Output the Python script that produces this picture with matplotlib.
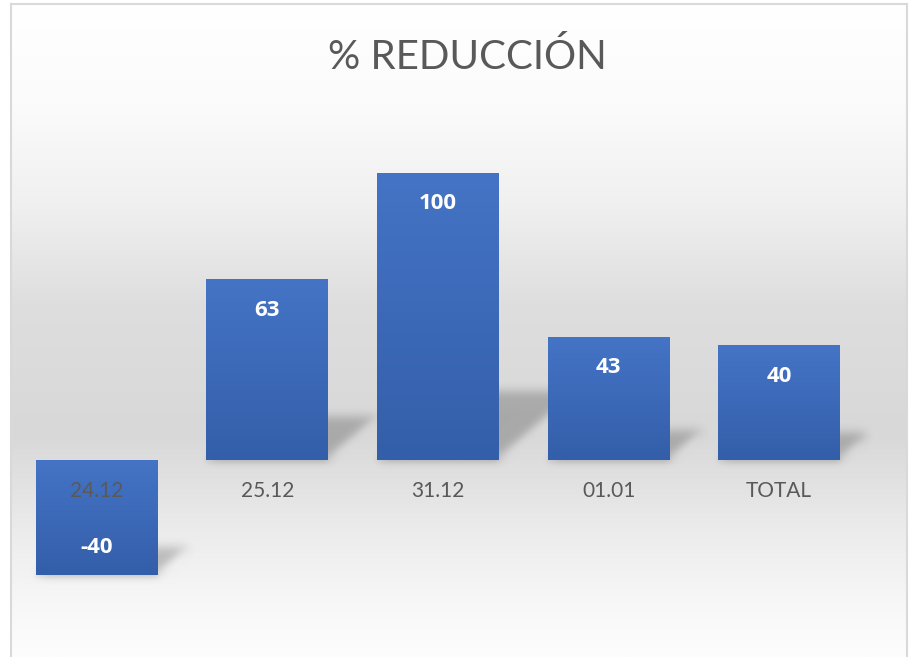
import numpy as np
import matplotlib
matplotlib.use("Agg")
import matplotlib.pyplot as plt
from matplotlib.patches import Rectangle, Polygon
from matplotlib.lines import Line2D
from matplotlib.colors import to_rgb

# ---------------- data ----------------
categories = ["24.12", "25.12", "31.12", "01.01", "TOTAL"]
values = [-40, 63, 100, 43, 40]
title = "% REDUCCIÓN"

# ---------------- style ----------------
W, H = 909, 657
DPI = 100
FONT = ["Lato", "DejaVu Sans"]
BOLD_FONT = ["Open Sans", "DejaVu Sans"]
plt.rcParams["font.family"] = FONT

fig = plt.figure(figsize=(W / DPI, H / DPI), dpi=DPI)
fig.patch.set_facecolor("white")

# chart frame (gradient background)
fx0, fx1, fy_top = 11, 907, 4
bg = fig.add_axes([fx0 / W, 0, (fx1 - fx0) / W, (H - fy_top) / H])
bg.set_axis_off()
ys = np.array([0, 100, 200, 300, 430, 470, 530, 600, 653])  # px from frame top
gs = np.array([255, 251, 240, 222, 216, 224, 236, 247, 253]) / 255.0
yy = np.linspace(0, 653, 400)
col = np.interp(yy, ys, gs)
grad = np.repeat(col[:, None], 3, axis=1)[:, None, :]
bg.imshow(grad, aspect="auto", extent=[0, 1, 0, 1], origin="upper")
bg.set_xlim(0, 1)
bg.set_ylim(0, 1)
ty = 1 - fy_top / H
for xs, yv in [([fx0 / W, fx0 / W], [0, ty]), ([fx0 / W, fx1 / W], [ty, ty]),
               ([fx1 / W, fx1 / W], [ty, 0])]:
    fig.lines.append(Line2D(xs, yv, transform=fig.transFigure, color="#d9d9d9",
                            linewidth=1.5, zorder=10))

# plot axes
ax_x0, ax_x1 = 11.5, 864.5
ax = fig.add_axes([ax_x0 / W, 0, (ax_x1 - ax_x0) / W, 1])
ax.set_facecolor("none")
zero_px = 460.0
px_per_unit = 2.87
ymin = -(H - zero_px) / px_per_unit
ymax = zero_px / px_per_unit
n = len(categories)
x = np.arange(n)
xlim = (-0.5, n - 0.5)
px_per_x = (ax_x1 - ax_x0) / (xlim[1] - xlim[0])
bar_w = 0.714

bars = ax.bar(x, values, width=bar_w, color="none", edgecolor="none", zorder=3)


def make_blur(sigma):
    def filt(im, dpi):
        pad = int(3 * sigma) + 1
        src = np.pad(im, [(pad, pad), (pad, pad), (0, 0)], "constant")
        k = np.arange(-pad, pad + 1)
        w = np.exp(-0.5 * (k / sigma) ** 2)
        w /= w.sum()
        out = np.zeros_like(src)
        for kk, ww in zip(k, w):
            out += ww * np.roll(src, kk, axis=0)
        out2 = np.zeros_like(out)
        for kk, ww in zip(k, w):
            out2 += ww * np.roll(out, kk, axis=1)
        return out2, -pad, -pad
    return filt


top_c = np.array(to_rgb("#4574C6"))
bot_c = np.array(to_rgb("#335EA9"))
g = np.linspace(0, 1, 200)[:, None]
bar_grad = (bot_c[None, :] * (1 - g) + top_c[None, :] * g)[:, None, :]

for b, v in zip(bars, values):
    x0 = b.get_x()
    x1 = x0 + b.get_width()
    hpx = abs(v) * px_per_unit
    base = 0 if v >= 0 else v
    sh = 0.24 * abs(v)
    shift = 0.28 * hpx / px_per_x
    poly = Polygon([(x0, base), (x1, base), (x1 + shift, base + sh), (x0 + shift, base + sh)],
                   closed=True, facecolor="black", alpha=0.22, edgecolor="none", zorder=2)
    poly.set_agg_filter(make_blur(5.0))
    ax.add_patch(poly)
    under = Rectangle((x0, base - 2 / px_per_unit), x1 - x0, 4 / px_per_unit,
                      facecolor="black", alpha=0.08, edgecolor="none", zorder=2)
    under.set_agg_filter(make_blur(2.5))
    ax.add_patch(under)
    y0, y1 = sorted([0, v])
    im = ax.imshow(bar_grad, extent=[x0, x1, y0, y1], origin="lower",
                   aspect="auto", zorder=3, interpolation="bilinear")
    im.set_clip_path(b)
    # value label
    off = -31 if v >= 0 else 27
    ax.annotate(f"{v}", (b.get_x() + b.get_width() / 2, v), xytext=(0, off * 72 / DPI),
                textcoords="offset points", ha="center", va="center",
                color="white", fontsize=16, fontweight="bold", family=BOLD_FONT, zorder=5)

ax.set_xlim(*xlim)
ax.set_ylim(ymin, ymax)
ax.set_xticks(x, categories)
ax.set_yticks([])
ax.spines[["top", "right", "left"]].set_visible(False)
ax.spines["bottom"].set_position(("data", 0))
ax.spines["bottom"].set_visible(False)
ax.tick_params(axis="x", length=0, pad=15, labelsize=15, labelcolor="#595959")
ax.xaxis.set_zorder(6)

fig.text(467 / W, 1 - 57 / H, title, ha="center", va="center",
         fontsize=29, color="#595959")

fig.savefig("out.png", dpi=DPI)
